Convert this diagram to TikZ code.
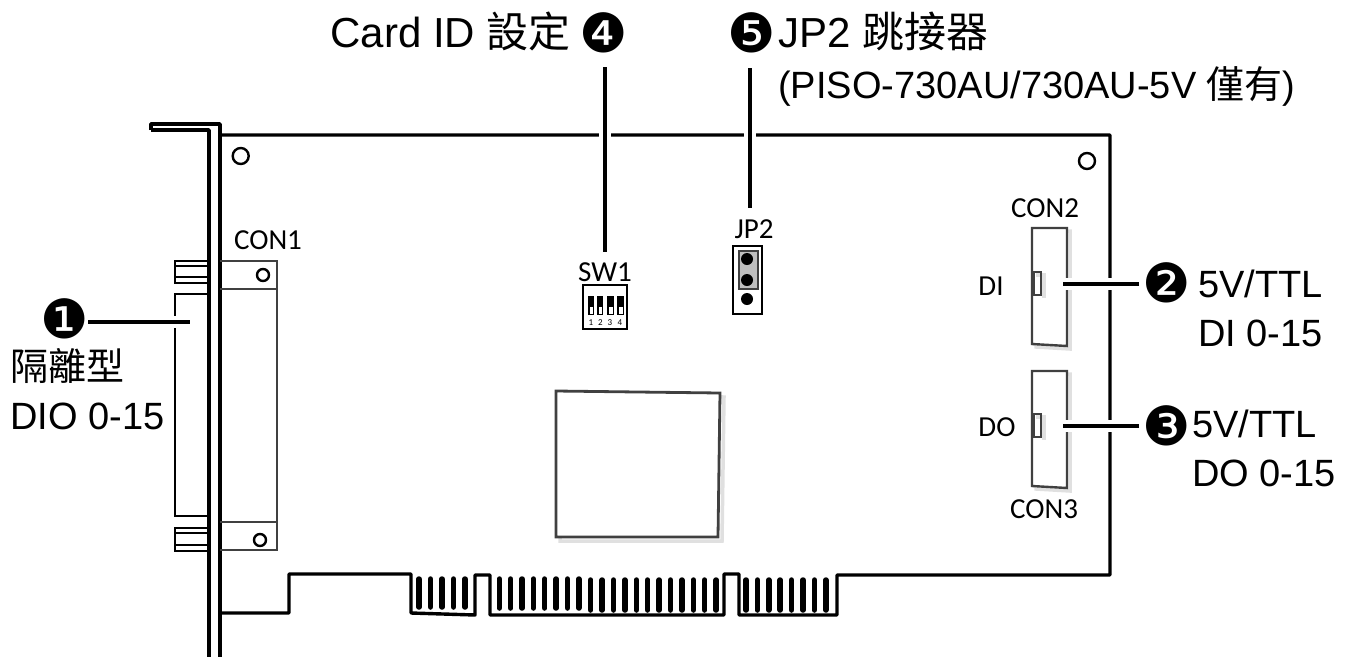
\documentclass[tikz,border=0pt]{standalone}
\usepackage{fontspec}
\setmainfont{Liberation Sans}
\newfontfamily\cjk{Noto Sans CJK TC}
\newfontfamily\pinfont{Carlito}
\newfontfamily\dingfont{DejaVu Sans}
\usetikzlibrary{positioning}
\definecolor{PartGray}{HTML}{404040}
\definecolor{ShadowGray}{HTML}{E0E0E0}
\definecolor{JumperGray}{HTML}{BFBFBF}
\begin{document}
\begin{tikzpicture}[
  x=1pt, y=-1pt,
  edge/.style={draw=black, line width=3.4pt, line join=round},
  thinedge/.style={draw=black, line width=2.4pt},
  part/.style={draw=PartGray, line width=2.4pt},
  partshadow/.style={draw=ShadowGray, line width=3.5pt},
  finger/.style={draw=black, line width=5.5pt, line cap=round},
  leader/.style={draw=black, line width=4pt,
    preaction={draw=white, line width=12pt}},
  pinlabel/.style={font=\pinfont\fontsize{29}{32}\selectfont, inner sep=0pt},
  callout/.style={font=\fontsize{38}{49}\selectfont, inner sep=0pt, align=left},
  headline/.style={font=\fontsize{42}{49}\selectfont, inner sep=0pt},
  badge/.style={font=\dingfont\fontsize{54}{54}\selectfont, inner sep=0pt}
]
\useasboundingbox (0,0) rectangle (1352,657);
% bracket
\draw[edge] (151,130) -- (151,124) -- (220,124) -- (220,657);
\draw[edge] (151,130) -- (209,130) -- (209,657);
% board outline
\draw[edge] (220,135) -- (1110,135) -- (1110,575) -- (837,575) -- (837,615) -- (739,615) -- (739,574)
  -- (724,574) -- (724,615) -- (490,615) -- (490,575) -- (475,575) -- (475,615) -- (411,613)
  -- (411,574) -- (289,574) -- (289,613) -- (220,613);
\draw[thinedge] (240.7,156) circle[radius=8];
\draw[thinedge] (1087,161) circle[radius=8];
% gold fingers
\foreach \x in {419,430.5,442,453.5,465} \draw[finger] (\x,579) -- (\x,607);
\foreach \i in {0,...,7} \draw[finger] ({499.3+11.36*\i},579) -- ({499.3+11.36*\i},608);
\foreach \i in {0,...,11} \draw[finger] ({590.7+11.4*\i},580) -- ({590.7+11.4*\i},610);
\foreach \i in {0,...,7} \draw[finger] ({746+11.4*\i},580) -- ({746+11.4*\i},610);
% CON1
\draw[thinedge] (209,294) -- (175,294) -- (175,516) -- (209,516);
\foreach \y/\ya/\yb/\yc in {261/266/277/283,528/533/545/551}{
  \draw[thinedge] (209,\y) -- (175,\y) -- (175,\yc) -- (209,\yc);
  \draw[thinedge] (175,\ya) -- (209,\ya);
  \draw[thinedge] (175,\yb) -- (209,\yb);
}
\draw[part] (220,261) -- (277,261) -- (277,550) -- (220,550);
\draw[part] (220,289) -- (277,289);
\draw[part] (220,522) -- (277,522);
\draw[thinedge] (263,275) circle[radius=6];
\draw[thinedge] (260,540) circle[radius=6];
% chip
\draw[partshadow] (560,395) -- (724,397) -- (722,541) -- (560,541) -- cycle;
\draw[draw=white, fill=white] (556,391) -- (720,393) -- (718,537) -- (556,537) -- cycle;
\draw[part, line width=2.8pt] (556,391) -- (720,393) -- (718,537) -- (556,537) -- cycle;
% CON2 and CON3
\foreach \y/\ya/\yb/\yc in {228/272/295/344,371/414/437/486}{
  \draw[partshadow] (1036,\y+3) -- (1070,\y+3) -- (1070,\yc+5) -- (1036,\yc+3) -- cycle;
  \draw[draw=white, fill=white] (1032,\y) -- (1067,\y) -- (1067,\yc+2) -- (1032,\yc) -- cycle;
  \draw[part] (1032,\y) -- (1067,\y) -- (1067,\yc+2) -- (1032,\yc) -- cycle;
  \draw[partshadow] (1036,\ya+3) -- (1044,\ya+3) -- (1044,\yb+3);
  \draw[part, line width=2pt] (1034,\ya) rectangle (1041,\yb);
  \draw[part, line width=3pt] (1033,\ya) -- (1033,\yb);
}
% SW1
\draw[thinedge] (583,285) rectangle (627,329);
\foreach \xa/\xb in {588/594,597/603,607/614,617/624}{
  \fill[black] (\xa,296) rectangle (\xb,315);
  \fill[white] (\xa+2,307) rectangle (\xb-1.5,313.5);
}
\foreach \n/\x in {1/591,2/600.5,3/610,4/620}
  \node[inner sep=0pt, font=\pinfont\fontsize{9}{9}\selectfont] (dip\n) at (\x,322.5) {\n};
% JP2
\draw[thinedge] (733,246) rectangle (762,314);
\draw[part, fill=JumperGray] (739,251) rectangle (758,289);
\foreach \y in {259,280,299} \fill[black] (747,\y) circle[radius=6];
% pin labels
\node[pinlabel] (conone) at (268,240) {CON1};
\node[pinlabel] (contwo) at (1045,208) {CON2};
\node[pinlabel] (conthree) at (1044,509) {CON3};
\node[pinlabel] (dilabel) at (991,286) {DI};
\node[pinlabel] (dolabel) at (997,427) {DO};
\node[pinlabel] (swlabel) at (605,272) {SW1};
\node[pinlabel] (jplabel) at (754,229) {JP2};
% callouts
\node[badge] (one) at (65,319) {❶};
\node[badge] (two) at (1167,283) {❷};
\node[badge] (three) at (1167,426) {❸};
\node[badge] (four) at (604,33) {❹};
\node[badge] (five) at (752,33) {❺};
\node[callout, anchor=west] (isodio) at (10,389) {{\cjk 隔離型}\\DIO 0-15};
\node[callout, anchor=west] (ditext) at (1198,308) {5V/TTL\\DI 0-15};
\node[callout, anchor=west] (dotext) at (1192,448) {5V/TTL\\DO 0-15};
\node[headline, anchor=base east] (cardtext) at (571,47) {Card ID {\cjk 設定}};
\node[headline, anchor=base west] (jptext) at (778,47) {JP2 {\cjk 跳接器}};
\node[callout, anchor=base west] (modeltext) at (778,98) {(PISO-730AU/730AU-5V {\cjk 僅有})};
% leaders
\coordinate (oneend) at (190,322);
\coordinate (twoend) at (1063,284);
\coordinate (threeend) at (1063,426);
\coordinate (fourend) at (605,252);
\coordinate (fiveend) at (750,208);
\draw[leader] (88,322) -- (oneend);
\draw[leader] (1139,284) -- (twoend);
\draw[leader] (1139,426) -- (threeend);
\draw[leader] (605,67) -- (fourend);
\draw[leader] (750,68) -- (fiveend);
\end{tikzpicture}
\end{document}
